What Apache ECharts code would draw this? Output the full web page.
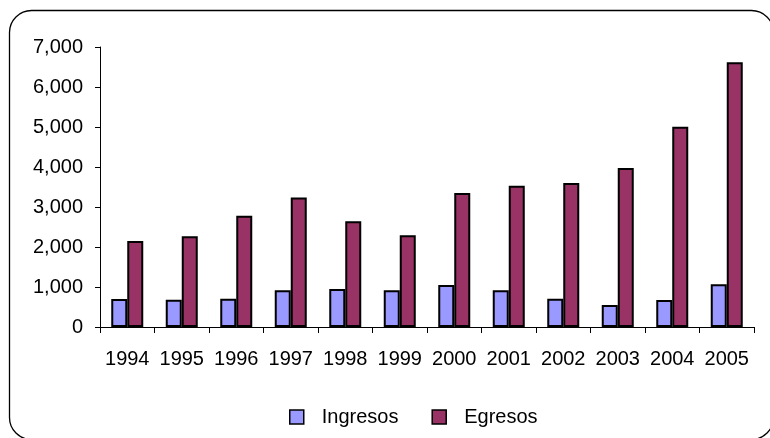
<!DOCTYPE html>
<html><head><meta charset="utf-8">
<script src="https://cdn.jsdelivr.net/npm/echarts@6/dist/echarts.min.js"></script>
<style>html,body{margin:0;padding:0;background:#fff}#c{width:770px;height:438px}</style>
</head><body><div id="c"></div>
<script>
const categories = ['1994','1995','1996','1997','1998','1999','2000','2001','2002','2003','2004','2005'];
const ingresos = [700, 683, 708, 917, 950, 917, 1050, 917, 708, 550, 675, 1067];
const egresos = [2150, 2267, 2783, 3240, 2642, 2292, 3350, 3533, 3600, 3975, 5008, 6617];
const yTicks = [0, 1000, 2000, 3000, 4000, 5000, 6000, 7000];

const chart = echarts.init(document.getElementById('c'), null, {renderer: 'canvas'});
const font = 'Liberation Sans, Arial, sans-serif';
chart.setOption({
  animation: false,
  graphic: [{
    type: 'rect', left: 7, top: 8, z: -1,
    shape: {width: 764, height: 429, r: 22},
    style: {fill: 'none', stroke: '#000', lineWidth: 1.3}
  }],
  grid: {left: 100, right: 16, top: 47, bottom: 111, containLabel: false},
  legend: {
    top: 402, left: 284, icon: 'rect',
    itemWidth: 14, itemHeight: 14, itemGap: 33,
    textStyle: {fontFamily: font, fontSize: 20, color: '#000', padding: [0,0,0,13]},
    data: [
      {name: 'Ingresos', itemStyle: {color: '#9999FF', borderColor: '#000', borderWidth: 1.5}},
      {name: 'Egresos', itemStyle: {color: '#993366', borderColor: '#000', borderWidth: 1.5}}
    ]
  },
  xAxis: {
    type: 'category', data: categories,
    axisLine: {lineStyle: {color: '#000', width: 1}},
    axisTick: {show: true, length: 6, interval: 0, lineStyle: {color: '#000'}},
    axisLabel: {fontFamily: font, fontSize: 20, color: '#000', margin: 22, interval: 0}
  },
  yAxis: {
    type: 'value', min: 0, max: 7000, interval: 1000,
    axisLine: {show: true, lineStyle: {color: '#000', width: 1}},
    axisTick: {show: true, length: 5, lineStyle: {color: '#000'}},
    splitLine: {show: false},
    axisLabel: {fontFamily: font, fontSize: 20, color: '#000', margin: 17,
      formatter: v => yTicks.includes(v) ? v.toLocaleString('en-US') : ''}
  },
  series: [
    {name: 'Ingresos', type: 'bar', data: ingresos, barWidth: 16, barGap: '0%',
     itemStyle: {color: '#9999FF', borderColor: '#000', borderWidth: 2}},
    {name: 'Egresos', type: 'bar', data: egresos, barWidth: 16, barGap: '0%',
     itemStyle: {color: '#993366', borderColor: '#000', borderWidth: 2}}
  ]
});
</script></body></html>
